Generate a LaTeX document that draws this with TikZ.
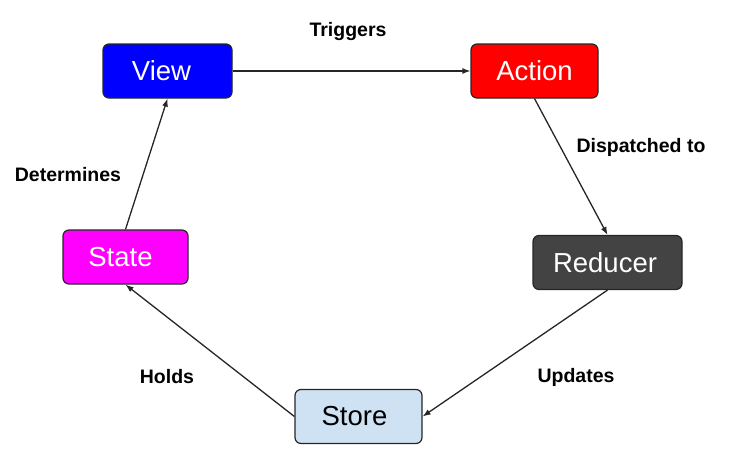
\documentclass[tikz,border=0pt]{standalone}
\usepackage{fontspec}
\setmainfont{Liberation Sans}
\usetikzlibrary{arrows.meta}
\definecolor{viewblue}{HTML}{0000FF}
\definecolor{actionred}{HTML}{FF0000}
\definecolor{reducergray}{HTML}{434343}
\definecolor{storeblue}{HTML}{CFE2F3}
\definecolor{statemag}{HTML}{FF00FF}
\definecolor{edgegray}{HTML}{262626}
\tikzset{
  box/.style={draw=edgegray, line width=1.2pt, rounded corners=6pt, minimum height=54pt,
    inner sep=0pt, font=\fontsize{27.5}{33}\selectfont},
  conn/.style={draw=edgegray, line width=1.3pt, -{Latex[length=8pt,width=6pt]}},
  lbl/.style={font=\bfseries\fontsize{19.5}{23}\selectfont, text=black, inner sep=0pt}
}
\begin{document}
\begin{tikzpicture}[x=1pt,y=-1pt]
\useasboundingbox (0,0) rectangle (740,464);
\node[box, fill=viewblue, text=white, minimum width=129pt] (view) at (167.5,71) {View\hspace*{12pt}};
\node[box, fill=actionred, text=white, minimum width=127pt] (action) at (534.5,71) {Action};
\node[box, fill=reducergray, text=white, minimum width=149pt] (reducer) at (607.5,262.5) {Reducer\hspace*{5pt}};
\node[box, fill=storeblue, text=black, minimum width=127pt] (store) at (358.5,416.5) {Store\hspace*{8pt}};
\node[box, fill=statemag, text=white, minimum width=125pt] (state) at (125.5,257) {State\hspace*{10pt}};

\draw[conn] (view.east) -- (action.west);
\draw[conn] (action.south) -- (reducer.north);
\draw[conn] (reducer.south) -- (store.east);
\draw[conn] (store.west) -- (state.south);
\draw[conn] (state.north) -- (view.south);

\node[lbl] (ltrig) at (348,31) {Triggers};
\node[lbl] (ldisp) at (641,147) {Dispatched to};
\node[lbl] (lupd) at (576,377) {Updates};
\node[lbl] (lhold) at (167,377) {Holds};
\node[lbl] (ldet) at (68,175) {Determines};
\end{tikzpicture}
\end{document}
